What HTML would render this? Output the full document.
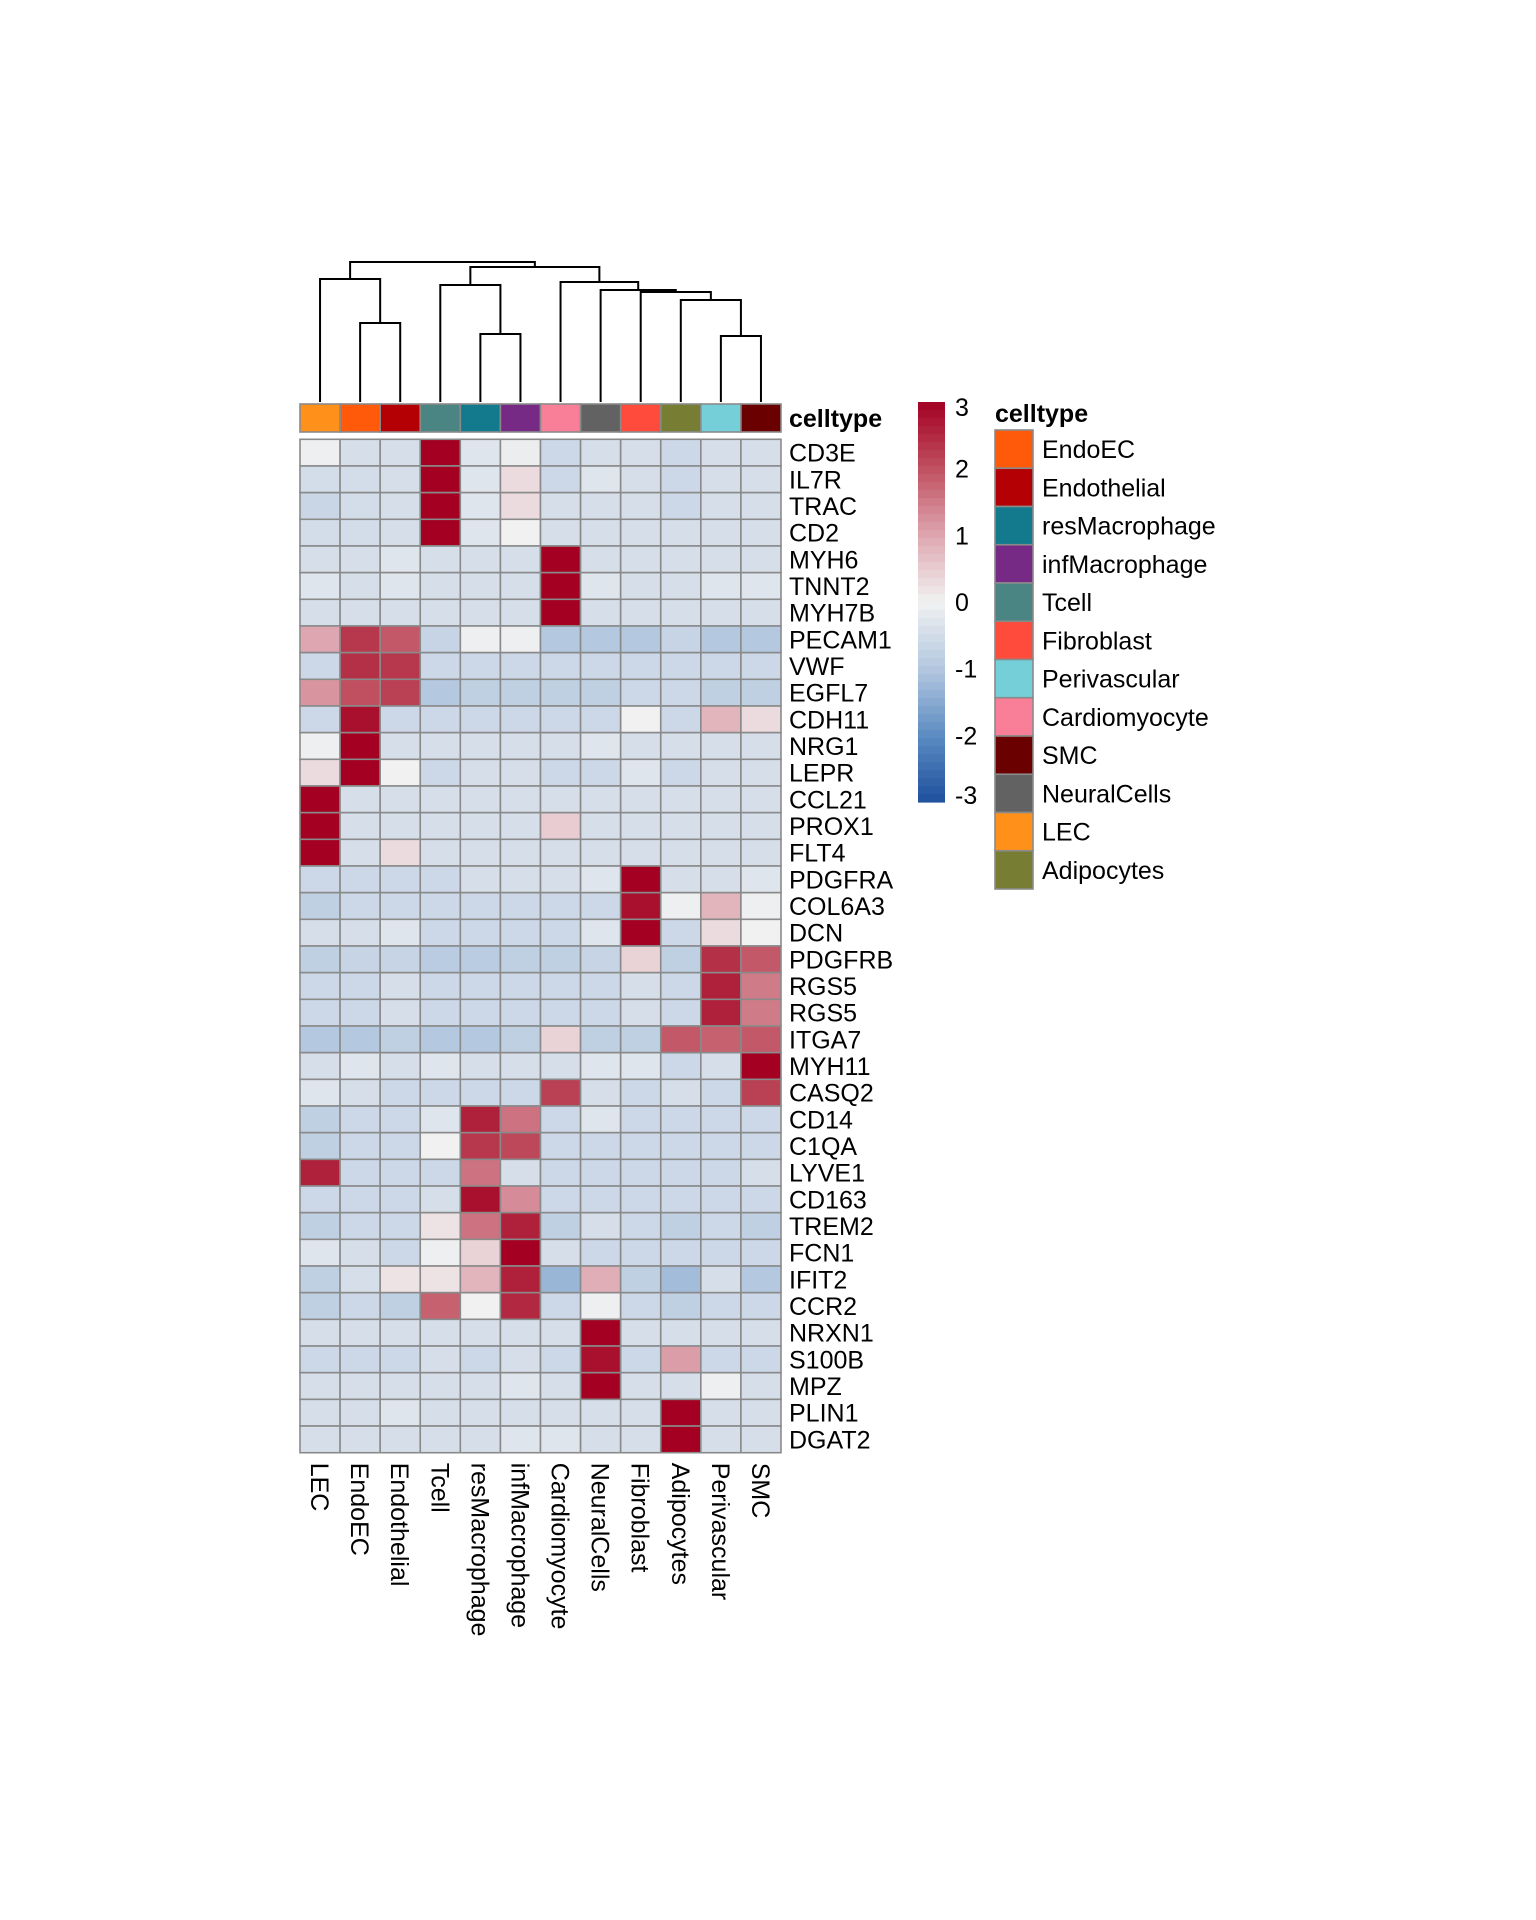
<!DOCTYPE html>
<html><head><meta charset="utf-8">
<style>
html,body{margin:0;padding:0;background:#fff;}
svg{display:block;font-family:"Liberation Sans",Arial,sans-serif;}
</style></head>
<body>
<svg id="chart" width="1536" height="1920" viewBox="0 0 1536 1920" xmlns="http://www.w3.org/2000/svg">
<rect width="1536" height="1920" fill="#fff"/>
<g id="dendro"></g>
<g id="anno"></g>
<g id="cells"></g>
<g id="rowlabels"></g>
<g id="collabels"></g>
<g id="colorbar"></g>
<g id="legend"></g>
</svg>
<script>
const columns = ["LEC","EndoEC","Endothelial","Tcell","resMacrophage","infMacrophage","Cardiomyocyte","NeuralCells","Fibroblast","Adipocytes","Perivascular","SMC"];
const columnColors = ["#FF901A","#FF5A0A","#B40004","#4A8584","#127A8C","#762A86","#F97F99","#626262","#FF4B3B","#777E34","#74CFD9","#6A0000"];
const genes = ["CD3E","IL7R","TRAC","CD2","MYH6","TNNT2","MYH7B","PECAM1","VWF","EGFL7","CDH11","NRG1","LEPR","CCL21","PROX1","FLT4","PDGFRA","COL6A3","DCN","PDGFRB","RGS5","RGS5","ITGA7","MYH11","CASQ2","CD14","C1QA","LYVE1","CD163","TREM2","FCN1","IFIT2","CCR2","NRXN1","S100B","MPZ","PLIN1","DGAT2"];
const values = [
[-0.05,-0.45,-0.45,3,-0.3,-0.1,-0.6,-0.45,-0.45,-0.6,-0.45,-0.45],
[-0.5,-0.5,-0.45,3,-0.3,0.3,-0.6,-0.3,-0.45,-0.6,-0.45,-0.45],
[-0.65,-0.5,-0.45,3,-0.3,0.3,-0.45,-0.45,-0.45,-0.6,-0.45,-0.45],
[-0.5,-0.5,-0.45,3,-0.3,0,-0.45,-0.45,-0.45,-0.45,-0.45,-0.45],
[-0.45,-0.45,-0.3,-0.45,-0.45,-0.45,3,-0.45,-0.45,-0.45,-0.45,-0.45],
[-0.3,-0.45,-0.3,-0.45,-0.45,-0.45,3,-0.3,-0.45,-0.45,-0.3,-0.3],
[-0.45,-0.45,-0.45,-0.45,-0.45,-0.45,3,-0.45,-0.45,-0.45,-0.45,-0.45],
[1.0,2.3,1.9,-0.7,-0.05,-0.05,-1.0,-1.0,-1.0,-0.7,-1.0,-1.0],
[-0.6,2.4,2.3,-0.6,-0.6,-0.6,-0.6,-0.6,-0.6,-0.6,-0.6,-0.6],
[1.2,2.0,2.2,-1.0,-0.8,-0.8,-0.8,-0.8,-0.6,-0.6,-0.8,-0.8],
[-0.6,2.8,-0.6,-0.6,-0.6,-0.6,-0.6,-0.6,0,-0.6,0.8,0.3],
[-0.05,3,-0.45,-0.45,-0.45,-0.45,-0.45,-0.3,-0.45,-0.45,-0.45,-0.45],
[0.3,3,0,-0.6,-0.45,-0.45,-0.6,-0.6,-0.3,-0.6,-0.45,-0.45],
[3,-0.45,-0.45,-0.45,-0.45,-0.45,-0.45,-0.45,-0.45,-0.45,-0.45,-0.45],
[3,-0.45,-0.45,-0.45,-0.45,-0.45,0.5,-0.45,-0.45,-0.45,-0.45,-0.45],
[3,-0.45,0.3,-0.45,-0.45,-0.45,-0.45,-0.45,-0.45,-0.45,-0.45,-0.45],
[-0.6,-0.6,-0.6,-0.6,-0.45,-0.45,-0.45,-0.3,3,-0.45,-0.45,-0.3],
[-0.8,-0.6,-0.6,-0.6,-0.6,-0.6,-0.6,-0.6,2.8,-0.05,0.8,-0.05],
[-0.45,-0.45,-0.3,-0.6,-0.6,-0.6,-0.6,-0.3,3,-0.6,0.3,0],
[-0.8,-0.7,-0.7,-0.9,-0.9,-0.8,-0.8,-0.7,0.4,-0.8,2.4,1.9],
[-0.6,-0.6,-0.45,-0.6,-0.6,-0.6,-0.6,-0.6,-0.45,-0.6,2.6,1.5],
[-0.6,-0.6,-0.45,-0.6,-0.6,-0.6,-0.6,-0.6,-0.45,-0.6,2.6,1.5],
[-1.0,-1.0,-0.8,-1.0,-1.0,-0.8,0.4,-0.8,-0.8,1.9,1.8,1.9],
[-0.45,-0.3,-0.45,-0.3,-0.45,-0.45,-0.45,-0.3,-0.3,-0.6,-0.45,3],
[-0.3,-0.45,-0.6,-0.6,-0.6,-0.6,2.2,-0.45,-0.6,-0.45,-0.6,2.2],
[-0.8,-0.6,-0.6,-0.3,2.6,1.6,-0.6,-0.3,-0.6,-0.6,-0.6,-0.6],
[-0.8,-0.6,-0.6,0,2.3,2.1,-0.6,-0.6,-0.6,-0.6,-0.6,-0.6],
[2.6,-0.6,-0.6,-0.6,1.6,-0.45,-0.6,-0.6,-0.6,-0.6,-0.6,-0.45],
[-0.6,-0.6,-0.6,-0.45,2.8,1.3,-0.6,-0.6,-0.6,-0.6,-0.6,-0.6],
[-0.8,-0.6,-0.6,0.2,1.6,2.6,-0.8,-0.45,-0.6,-0.8,-0.6,-0.8],
[-0.3,-0.45,-0.6,-0.05,0.4,3,-0.45,-0.6,-0.6,-0.6,-0.6,-0.6],
[-0.8,-0.45,0.2,0.2,0.8,2.6,-1.3,0.9,-0.8,-1.2,-0.45,-1.0],
[-0.8,-0.6,-0.8,1.8,0,2.5,-0.6,-0.05,-0.6,-0.8,-0.6,-0.6],
[-0.45,-0.45,-0.45,-0.45,-0.45,-0.45,-0.45,3,-0.45,-0.45,-0.45,-0.45],
[-0.6,-0.6,-0.6,-0.45,-0.6,-0.45,-0.6,2.8,-0.6,1.1,-0.6,-0.6],
[-0.45,-0.45,-0.45,-0.45,-0.45,-0.3,-0.45,3,-0.45,-0.45,-0.05,-0.45],
[-0.45,-0.45,-0.3,-0.45,-0.45,-0.45,-0.45,-0.45,-0.45,3,-0.45,-0.45],
[-0.45,-0.45,-0.45,-0.45,-0.45,-0.3,-0.3,-0.45,-0.45,3,-0.45,-0.45]
];
const colorTicks = [3,2,1,0,-1,-2,-3];
const legendNames = ["EndoEC","Endothelial","resMacrophage","infMacrophage","Tcell","Fibroblast","Perivascular","Cardiomyocyte","SMC","NeuralCells","LEC","Adipocytes"];
const legendColors = ["#FF5A0A","#B40004","#127A8C","#762A86","#4A8584","#FF4B3B","#74CFD9","#F97F99","#6A0000","#626262","#FF901A","#777E34"];
// dendrogram merges: [left, right, height] ; leaves are 0..11, merged nodes 12+
const merges = [
 [1,2,79],[4,5,68],[10,11,66],[9,14,102],[8,15,110],[7,16,112],[6,17,120],
 [3,13,117],[0,12,123],[19,18,135],[20,21,140]
];

const NS="http://www.w3.org/2000/svg";
const X0=300, X1=781, Y0=439.3, Y1=1452.7;
const cw=(X1-X0)/columns.length, rh=(Y1-Y0)/genes.length;
const xCol=i=>X0+cw*i;
const yRow=j=>Y0+rh*j;
const DBASE=402;
const yH=h=>DBASE-h;
const stops=[[-3,[30,80,157]],[-2,[92,140,194]],[-1,[180,200,224]],[0,[241,241,241]],[1,[222,166,176]],[2,[192,80,96]],[3,[163,0,34]]];
function color(v){
  v=Math.max(-3,Math.min(3,v));
  for(let k=0;k<stops.length-1;k++){
    const a=stops[k],b=stops[k+1];
    if(v<=b[0]){const t=(v-a[0])/(b[0]-a[0]);const c=a[1].map((x,i)=>Math.round(x+(b[1][i]-x)*t));return `rgb(${c.join(',')})`;}
  }
  return 'rgb(163,0,34)';
}
function el(tag,attrs,parent){const e=document.createElementNS(NS,tag);for(const k in attrs)e.setAttribute(k,attrs[k]);parent.appendChild(e);return e;}

const gC=document.getElementById('cells');
values.forEach((row,j)=>row.forEach((v,i)=>{
  const r=el('rect',{x:xCol(i),y:yRow(j),width:cw,height:rh,fill:color(v),stroke:'#8a8a8a','stroke-width':1.6},gC);
  
  
}));
const gR=document.getElementById('rowlabels');
genes.forEach((g,j)=>{
  const t=el('text',{x:X1+8,y:yRow(j)+rh/2+9,'font-size':25,fill:'#000'},gR);
  t.textContent=g;
  
  
});
const gL=document.getElementById('collabels');
columns.forEach((c,i)=>{
  const x=xCol(i)+cw/2-9, y=Y1+10;
  const t=el('text',{x:x,y:y,'font-size':25,fill:'#000',transform:`rotate(90 ${x} ${y})`},gL);
  t.textContent=c;
  
  
});
const gA=document.getElementById('anno');
columns.forEach((c,i)=>{
  const r=el('rect',{x:xCol(i),y:404,width:cw,height:28,fill:columnColors[i],stroke:'#8a8a8a','stroke-width':1.6},gA);
  
  
});
const at=el('text',{x:X1+8,y:427,'font-size':25,'font-weight':'bold',fill:'#000'},gA);
at.textContent='celltype';


const gD=document.getElementById('dendro');
const nodeX=columns.map((c,i)=>xCol(i)+cw/2), nodeY=columns.map(()=>DBASE);
merges.forEach(m=>{
  const [a,b,h]=m, y=yH(h);
  const p=el('path',{d:`M${nodeX[a]},${nodeY[a]}V${y}H${nodeX[b]}V${nodeY[b]}`,fill:'none',stroke:'#000','stroke-width':2},gD);
  
  
  nodeX.push((nodeX[a]+nodeX[b])/2); nodeY.push(y);
});
const gB=document.getElementById('colorbar');
const CB0=402, CB1=802, cbx=918, cbw=27;
const cy=v=>CB0+(3-v)/6*(CB1-CB0);
const nSeg=50;
for(let k=0;k<nSeg;k++){
  const v=3-6*(k+0.5)/nSeg;
  const r=el('rect',{x:cbx,y:CB0+(CB1-CB0)*k/nSeg,width:cbw,height:(CB1-CB0)/nSeg+0.6,fill:color(v)},gB);
  
  
}
colorTicks.forEach(v=>{
  const t=el('text',{x:cbx+cbw+10,y:cy(v)+(v===3?9:v===-3?-3:4)+5,'font-size':25,fill:'#000'},gB);
  t.textContent=String(v);
  
  
});
const gG=document.getElementById('legend');
const lt=el('text',{x:995,y:422,'font-size':25,'font-weight':'bold',fill:'#000'},gG);
lt.textContent='celltype';


const LH=38.25;
legendNames.forEach((n,k)=>{
  const y=430+LH*k;
  const r=el('rect',{x:995,y:y,width:38,height:LH,fill:legendColors[k],stroke:'#8a8a8a','stroke-width':1.6},gG);
  
  
  const t=el('text',{x:1042,y:y+LH/2+9,'font-size':25,fill:'#000'},gG);
  t.textContent=n;
  
  
});
</script>
</body></html>
